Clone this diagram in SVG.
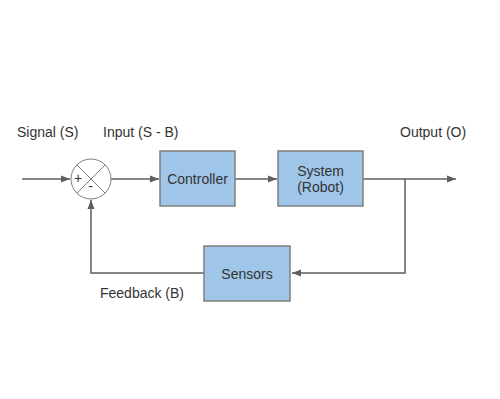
<svg xmlns="http://www.w3.org/2000/svg" width="500" height="399" viewBox="0 0 500 399">
  <style>
    .box { fill: #9fc5e8; stroke: #7f7f7f; stroke-width: 1.5; }
    .wire { fill: none; stroke: #5e5e5e; stroke-width: 1.5; }
    .lbl { font-family: "Liberation Sans", Arial, sans-serif; font-size: 14px; fill: #333333; }
    .mid { text-anchor: middle; }
  </style>
  <defs>
    <marker id="arrow" markerWidth="10" markerHeight="8" refX="9" refY="4" orient="auto" markerUnits="userSpaceOnUse">
      <path d="M0,0.5 L9,4 L0,7.5 Z" fill="#5e5e5e"/>
    </marker>
  </defs>
  <rect width="500" height="399" fill="#ffffff"/>

  <g id="connectors">
    <path class="wire" d="M22,179 H70" marker-end="url(#arrow)"/>
    <path class="wire" d="M111,179 H159" marker-end="url(#arrow)"/>
    <path class="wire" d="M235,179 H277" marker-end="url(#arrow)"/>
    <path class="wire" d="M363,179 H456" marker-end="url(#arrow)"/>
    <path class="wire" stroke="#9a9a9a" d="M405,179 V273 H292" marker-end="url(#arrow)"/>
    <path class="wire" d="M204,273 H91 V200" marker-end="url(#arrow)"/>
  </g>

  <g id="summing-junction">
    <circle cx="91" cy="179" r="20" fill="#ffffff" stroke="#7f7f7f" stroke-width="1"/>
    <path d="M76.9,164.9 L105.1,193.1 M105.1,164.9 L76.9,193.1" stroke="#7f7f7f" stroke-width="1"/>
    <text class="lbl mid" x="78" y="183" font-size="12">+</text>
    <text class="lbl mid" x="90.5" y="191" font-size="12">-</text>
  </g>

  <g id="controller">
    <rect class="box" x="160" y="151" width="75" height="55"/>
    <text class="lbl mid" x="197.5" y="184">Controller</text>
  </g>

  <g id="system">
    <rect class="box" x="278" y="151" width="85" height="55"/>
    <text class="lbl mid" x="320.5" y="175.5">System</text>
    <text class="lbl mid" x="320.5" y="191.5">(Robot)</text>
  </g>

  <g id="sensors">
    <rect class="box" x="204" y="246" width="86" height="55"/>
    <text class="lbl mid" x="247" y="278.5">Sensors</text>
  </g>

  <g id="labels">
    <text class="lbl" x="17" y="137">Signal (S)</text>
    <text class="lbl" x="103" y="137">Input (S - B)</text>
    <text class="lbl" x="400" y="137">Output (O)</text>
    <text class="lbl" x="100" y="298">Feedback (B)</text>
  </g>
</svg>
